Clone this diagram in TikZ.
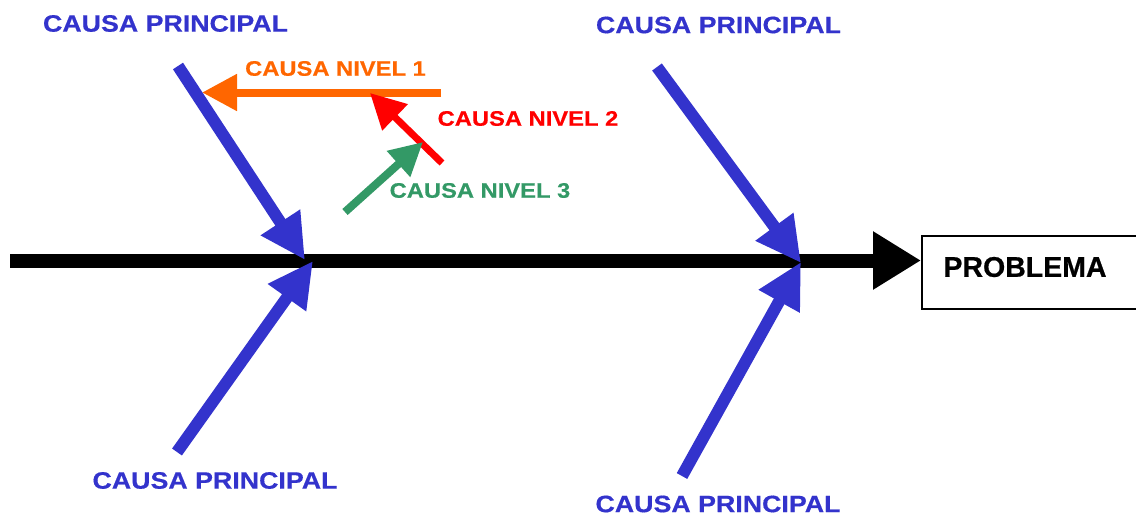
\documentclass[tikz,border=0pt]{standalone}
\usepackage{fontspec}
\setmainfont{Liberation Sans}
\usetikzlibrary{arrows.meta}
\definecolor{cblue}{HTML}{3333CC}
\definecolor{corange}{HTML}{FF6600}
\definecolor{cred}{HTML}{FF0000}
\definecolor{cgreen}{HTML}{339966}
\newfontfamily\lbl[FakeStretch=1.13,FakeBold=0.5]{Liberation Sans Bold}
\newfontfamily\problbl[FakeBold=0.6]{Liberation Sans Bold}
\tikzset{
  lab/.style={font=\lbl\fontsize{23.7}{26}\selectfont, inner sep=0pt, anchor=center},
  sublab/.style={font=\lbl\fontsize{21}{24}\selectfont, inner sep=0pt, anchor=center},
  mainarrow/.style={line width=12pt, draw=cblue, -{Triangle[length=45pt,width=44pt]}, fill=cblue},
  spine/.style={line width=14pt, draw=black, -{Triangle[length=48pt,width=55pt]}},
  lvla/.style={line width=8pt, draw=corange, -{Triangle[length=35pt,width=35pt]}},
  lvlb/.style={line width=7pt, draw=cred, -{Triangle[length=35pt,width=35pt]}},
  lvlc/.style={line width=8pt, draw=cgreen, -{Triangle[length=33pt,width=33pt]}},
  probbox/.style={draw=black, line width=1.5pt, minimum width=216pt, minimum height=73pt, anchor=west, inner sep=0pt},
}
\begin{document}
\begin{tikzpicture}[x=1pt,y=-1pt]
\useasboundingbox (0,0) rectangle (1136,517);
% coordinates
\coordinate (s0) at (10,260.5);
\coordinate (a1s) at (178,66);
\coordinate (a1t) at (305,260);
\coordinate (a2s) at (177,452);
\coordinate (a2t) at (313,261);
\coordinate (a3s) at (657,67);
\coordinate (a3t) at (801,263);
\coordinate (a4s) at (682,476);
\coordinate (a4t) at (801,262);
\coordinate (o1s) at (441,92.5);
\coordinate (o1t) at (202,92.5);
\coordinate (r1s) at (442,163);
\coordinate (r1t) at (370,93);
\coordinate (g1s) at (345,212);
\coordinate (g1t) at (423,142);
% problem box
\node[probbox] (prob) at (921,272.5) {};
\node[font=\problbl\fontsize{28.5}{30}\selectfont, inner sep=0pt] (probt) at (1025,267) {PROBLEMA};
% spine
\draw[spine] (s0) -- (s0 -| prob.west);
% main causes
\draw[mainarrow] (a1s) -- (a1t);
\draw[mainarrow] (a2s) -- (a2t);
\draw[mainarrow] (a3s) -- (a3t);
\draw[mainarrow] (a4s) -- (a4t);
% sub causes
\draw[lvla] (o1s) -- (o1t);
\draw[lvlb] (r1s) -- (r1t);
\draw[lvlc] (g1s) -- (g1t);
% labels
\node[lab, text=cblue] (c1) at (165.5,23.5) {CAUSA PRINCIPAL};
\node[lab, text=cblue] (c2) at (718.5,25) {CAUSA PRINCIPAL};
\node[lab, text=cblue] (c3) at (215,480.5) {CAUSA PRINCIPAL};
\node[lab, text=cblue] (c4) at (718,504) {CAUSA PRINCIPAL};
\node[sublab, text=corange] (n1) at (335.5,68.5) {CAUSA NIVEL 1};
\node[sublab, text=cred] (n2) at (528,118.5) {CAUSA NIVEL 2};
\node[sublab, text=cgreen] (n3) at (480,190.5) {CAUSA NIVEL 3};
\end{tikzpicture}
\end{document}
